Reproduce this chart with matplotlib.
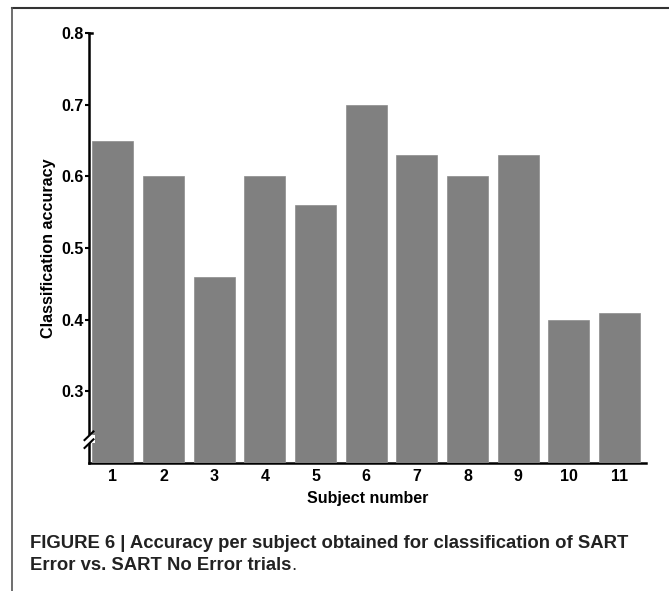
import numpy as np
import matplotlib.pyplot as plt
from matplotlib.lines import Line2D

plt.rcParams['font.family'] = ['Liberation Sans', 'DejaVu Sans']

subjects = [1, 2, 3, 4, 5, 6, 7, 8, 9, 10, 11]
accuracy = [0.65, 0.60, 0.46, 0.60, 0.56, 0.70, 0.63, 0.60, 0.63, 0.40, 0.41]
yticks = [0.3, 0.4, 0.5, 0.6, 0.7, 0.8]
floor = 0.2  # y axis starts here (broken axis)

fig = plt.figure(figsize=(6.69, 5.91), dpi=100)
ax = fig.add_axes([89/669, 1 - 463/591, (646 - 89)/669, (463 - 33)/591])

ax.bar(subjects, np.array(accuracy) - floor, width=0.81, bottom=floor,
       color='#808080', edgecolor='#8c8c8c', linewidth=0.5, zorder=3)

ax.set_xlim(0.53, 11.52)
ax.set_ylim(floor, 0.8)
ax.set_yticks(yticks)
ax.set_yticklabels([f"{v:.1f}" for v in yticks], fontweight='bold', fontsize=11.5)
ax.set_xticks(subjects)
ax.set_xticklabels([str(s) for s in subjects], fontweight='bold', fontsize=11.5)
ax.tick_params(axis='x', length=0, pad=4)
ax.tick_params(axis='y', length=3, width=1.5, pad=1)

for s in ['top', 'right']:
    ax.spines[s].set_visible(False)
for s in ['left', 'bottom']:
    ax.spines[s].set_linewidth(1.8)
    ax.spines[s].set_zorder(1)

ax.set_ylabel('Classification accuracy', fontweight='bold', fontsize=11.6, labelpad=4)
ax.set_xlabel('Subject number', fontweight='bold', fontsize=11.5, labelpad=5.5)

# small hook at top of y axis
trans = ax.get_yaxis_transform()
ax.add_line(Line2D([0, 0.006], [0.8, 0.8], transform=trans, color='black',
                   lw=1.8, clip_on=False))

# axis break marks
ax.add_patch(plt.Rectangle((-0.01, 0.228), 0.02, 0.011, transform=trans,
                           facecolor='white', edgecolor='none', zorder=4,
                           clip_on=False))
for yb in [0.227, 0.238]:
    ax.add_line(Line2D([-0.008, 0.008], [yb - 0.006, yb + 0.006], transform=trans,
                       color='black', lw=1.5, clip_on=False, zorder=5))

# figure frame
fig.add_artist(Line2D([12/669, 1], [1 - 8/591, 1 - 8/591], color='#333333', lw=1.5))
fig.add_artist(Line2D([12/669, 12/669], [0, 1 - 8/591], color='#555555', lw=1.2))

fig.text(30/669, 1 - 543/591, 'FIGURE 6 | Accuracy per subject obtained for classification of SART',
         fontsize=13.3, fontweight='bold', color='#222222', va='center')
t = fig.text(30/669, 1 - 566/591, 'Error vs. SART No Error trials',
             fontsize=13.3, fontweight='bold', color='#222222', va='center')
fig.add_artist(plt.Annotation('.', xy=(1, 0.5), xycoords=t, va='center',
                              fontsize=13.3, color='#222222'))

fig.savefig('out.png', dpi=100)
